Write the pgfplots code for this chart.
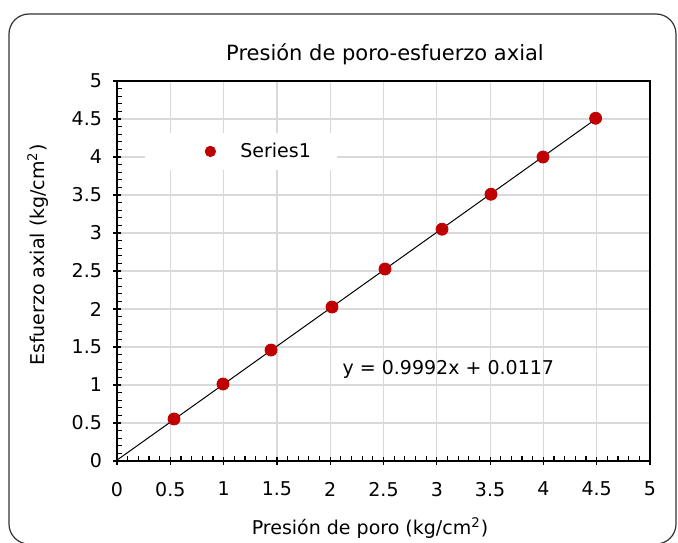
\documentclass[border=0pt]{standalone}
\usepackage{pgfplots}
\pgfplotsset{compat=1.18}
\usepackage{fontspec}
\setmainfont{DejaVu Sans}
\definecolor{ptred}{RGB}{192,0,0}
\definecolor{gridgray}{RGB}{217,217,217}

\begin{document}
\begin{tikzpicture}[x=1pt,y=1pt]
\begin{axis}[
  at={(58.5pt,40.5pt)}, anchor=south west,
  scale only axis, width=266.5pt, height=190pt,
  xmin=0, xmax=5, ymin=0, ymax=5,
  xtick={0,0.5,1,1.5,2,2.5,3,3.5,4,4.5,5},
  ytick={0,0.5,1,1.5,2,2.5,3,3.5,4,4.5,5},
  minor x tick num=4, minor y tick num=4,
  xtick pos=bottom, ytick pos=left,
  tick align=inside,
  major tick length=4pt, minor tick length=2.5pt,
  major x tick style={yshift=-2pt},
  major y tick style={xshift=-2pt},
  tick style={black, line width=0.6pt},
  axis line style={black, line width=0.8pt},
  grid=major, major grid style={gridgray, line width=0.6pt},
  ticklabel style={font=\fontsize{9.5}{11}\selectfont},
  /pgf/number format/assume math mode=true,
  xticklabel style={yshift=-7pt},
  yticklabel style={xshift=-4pt},
  legend style={at={(0.0525,0.865)}, anchor=north west, draw=none, fill=white,
    inner xsep=11pt, inner ysep=3pt, font=\fontsize{9.5}{11}\selectfont},
  legend image code/.code={%
    \path[draw=none, fill=none] (-21.5pt,0pt) -- (13pt,0pt);
    \draw[mark=*, mark size=2.6pt, ptred, mark options={fill=ptred}] plot coordinates {(0pt,0pt)};},
]
\addplot[only marks, mark=*, mark size=3pt, ptred, mark options={fill=ptred, draw=ptred}] coordinates {
  (0.535,0.553) (0.994,1.013) (1.445,1.46) (2.017,2.026) (2.514,2.526)
  (3.049,3.05) (3.508,3.51) (3.996,4.0) (4.49,4.51)
};
\addlegendentry{Series1}
\addplot[black, line width=0.5pt, forget plot] coordinates {(0,0.0117) (4.52,4.5281)};
\node[anchor=west, font=\fontsize{9.5}{11}\selectfont] at (axis cs:2.05,1.2) {y = 0.9992x + 0.0117};
\end{axis}
\node[font=\fontsize{10.5}{12}\selectfont] at (192.5,244) {Presión de poro-esfuerzo axial};
\node[font=\fontsize{9.5}{11}\selectfont] at (185,7) {Presión de poro (kg/cm\textsuperscript{2})};
\node[font=\fontsize{9.5}{11}\selectfont, rotate=90] at (19,143.5) {Esfuerzo axial (kg/cm\textsuperscript{2})};
\draw[black!80, line width=0.6pt, rounded corners=10pt] (4.5,-1) rectangle (338,264);
\pgfresetboundingbox
\useasboundingbox (0,0) rectangle (339,271);
\end{tikzpicture}
\end{document}
